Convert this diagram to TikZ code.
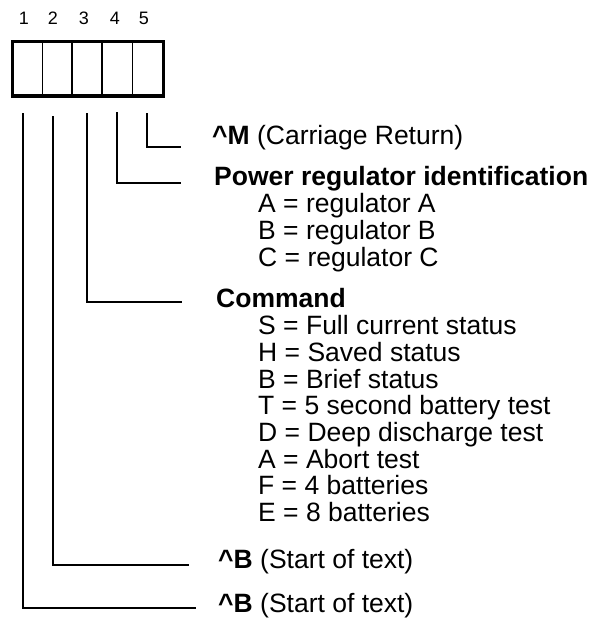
\documentclass[tikz,border=0pt]{standalone}
\usepackage{fontspec}
\setmainfont{Liberation Sans}
\begin{document}
\begin{tikzpicture}[x=1pt,y=-1pt,
  txt/.style={anchor=base west,inner sep=0pt,font=\fontsize{26.5}{27}\selectfont},
  num/.style={anchor=base,inner sep=0pt,font=\fontsize{18}{20}\selectfont},
  conn/.style={line width=1.2pt},
  frame/.style={line width=3.3pt},
  divider/.style={line width=1.3pt}]
\useasboundingbox (0,0) rectangle (592,618);
% numbers
\node[num] (n1) at (24,25) {1};
\node[num] (n2) at (53,25) {2};
\node[num] (n3) at (84,25) {3};
\node[num] (n4) at (115,25) {4};
\node[num] (n5) at (144,25) {5};
% box
\draw[frame] (12.65,41.65) rectangle (163.35,95.95);
\foreach \x in {42.7,72,102,132.7} \draw[divider] (\x,41.65) -- (\x,95.95);
% texts
\node[txt] (t5) at (212,144) {\textbf{\textasciicircum M} (Carriage Return)};
\node[txt] (t4) at (214,185) {\textbf{Power regulator identification}};
\node[txt] (t4a) at (258,212) {A = regulator A};
\node[txt] (t4b) at (258,239) {B = regulator B};
\node[txt] (t4c) at (258,266) {C = regulator C};
\node[txt] (t3) at (216,307) {\textbf{Command}};
\node[txt] (t3a) at (258,334) {S = Full current status};
\node[txt] (t3b) at (258,361) {H = Saved status};
\node[txt] (t3c) at (258,388) {B = Brief status};
\node[txt] (t3d) at (258,414) {T = 5 second battery test};
\node[txt] (t3e) at (258,441) {D = Deep discharge test};
\node[txt] (t3f) at (258,468) {A = Abort test};
\node[txt] (t3g) at (258,494) {F = 4 batteries};
\node[txt] (t3h) at (258,521) {E = 8 batteries};
\node[txt] (t2) at (218,568) {\textbf{\textasciicircum B} (Start of text)};
\node[txt] (t1) at (218,612) {\textbf{\textasciicircum B} (Start of text)};
% connector endpoints
\coordinate (s5) at (147,113); \coordinate (e5) at (181,147);
\coordinate (s4) at (117,112); \coordinate (e4) at (181,183);
\coordinate (s3) at (87,113);  \coordinate (e3) at (182,302);
\coordinate (s2) at (53,116);  \coordinate (e2) at (189,565);
\coordinate (s1) at (23,113);  \coordinate (e1) at (196,608);
\draw[conn] (s5) |- (e5);
\draw[conn] (s4) |- (e4);
\draw[conn] (s3) |- (e3);
\draw[conn] (s2) |- (e2);
\draw[conn] (s1) |- (e1);
\end{tikzpicture}
\end{document}
